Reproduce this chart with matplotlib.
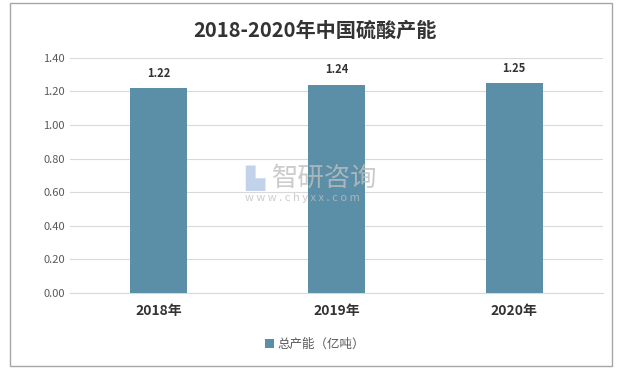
import numpy as np
import matplotlib.pyplot as plt
from matplotlib.patches import Rectangle

plt.rcParams['font.family'] = ['Noto Sans CJK SC', 'DejaVu Sans']

# data
years = ['2018年', '2019年', '2020年']
capacity = [1.22, 1.24, 1.25]
yticks = [0.00, 0.20, 0.40, 0.60, 0.80, 1.00, 1.20, 1.40]

fig = plt.figure(figsize=(6.3, 3.71), dpi=100)
ax = fig.add_axes([0.111, 0.210, 0.846, 0.634])

# outer border
fig.patches.append(Rectangle((10/630, 1-366/371), 602/630, 363/371,
                             transform=fig.transFigure, fill=False,
                             edgecolor='#a6a6a6', linewidth=1))

x = np.arange(len(years))
bars = ax.bar(x, capacity, width=0.32, color='#5b8fa8', zorder=3,
              label='总产能（亿吨）')
for xi, v in zip(x, capacity):
    ax.text(xi, v + 0.05, '%.2f' % v, ha='center', va='bottom',
            fontsize=8, fontweight='bold', color='#333333')

ax.set_xlim(-0.5, 2.5)
ax.set_ylim(0, 1.4)
ax.set_yticks(yticks)
ax.set_yticklabels(['%.2f' % t for t in yticks], fontsize=8, color='#595959')
ax.set_xticks(x)
ax.set_xticklabels(years, fontsize=10, fontweight='bold', color='#333333')
ax.tick_params(axis='both', length=0)
ax.tick_params(axis='x', pad=8)
ax.grid(axis='y', color='#d9d9d9', linewidth=0.8, zorder=0)
for s in ['top', 'right', 'left']:
    ax.spines[s].set_visible(False)
ax.spines['bottom'].set_color('#d9d9d9')

fig.text(0.5, 1-30/371, '2018-2020年中国硫酸产能', ha='center', va='center',
         fontsize=14.5, fontweight='bold', color='#333333')

ax.legend(loc='center', bbox_to_anchor=(0.5, 1-344/371), bbox_transform=fig.transFigure,
          frameon=False, fontsize=9, handlelength=0.7, handleheight=0.7,
          handletextpad=0.3, labelcolor='#595959')

# watermark
fig.text(245/630, 1-178/371, '▙', fontsize=18, color='#b4c7e7', alpha=0.8,
         ha='left', va='center', family='DejaVu Sans')
fig.text(272/630, 1-178/371, '智研咨询', fontsize=19, color='#bfbfbf', alpha=0.8,
         ha='left', va='center')
fig.text(245/630, 1-198/371, 'w w w . c h y x x . c o m', fontsize=8, color='#bfbfbf',
         alpha=0.8, ha='left', va='center')

plt.savefig('out.png')
